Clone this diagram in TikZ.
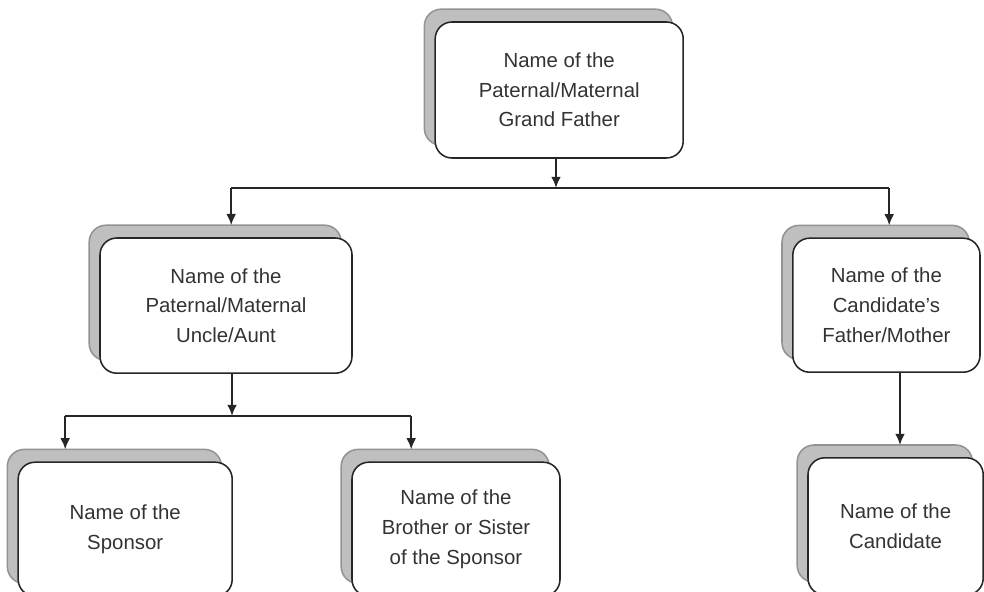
\documentclass[tikz,border=0pt]{standalone}
\usepackage{fontspec}
\setmainfont{Liberation Sans}
\usetikzlibrary{shadows,arrows.meta}

\begin{document}
\begin{tikzpicture}[
  box/.style={draw=black!85, line width=1.1pt, rounded corners=0.42cm, fill=white,
    align=center, text=black!80, font=\fontsize{14.5}{21}\selectfont, inner sep=0pt,
    copy shadow={shadow xshift=-0.27cm, shadow yshift=0.32cm, fill=gray!50, draw=gray!85}},
  link/.style={line width=1.5pt, draw=black!85},
  arrow/.style={link, -{Latex[length=8pt,width=7pt]}}
]
  \useasboundingbox (0,0) rectangle (24.60,-14.78);
  \clip (0,0) rectangle (24.60,-14.78);
  \node[box, minimum width=6.20cm, minimum height=3.40cm] (1) at (13.98,-2.25) {Name of the\\Paternal/Maternal\\Grand Father};
  \node[box, minimum width=6.30cm, minimum height=3.38cm] (2) at (5.65,-7.64) {Name of the\\Paternal/Maternal\\Uncle/Aunt};
  \node[box, minimum width=4.68cm, minimum height=3.35cm] (3) at (22.16,-7.63) {Name of the\\Candidate's\\Father/Mother};
  \node[box, minimum width=5.35cm, minimum height=3.35cm] (4) at (3.13,-13.23) {Name of the\\Sponsor};
  \node[box, minimum width=5.20cm, minimum height=3.35cm] (5) at (11.40,-13.23) {Name of the\\Brother or Sister\\of the Sponsor};
  \node[box, minimum width=4.38cm, minimum height=3.43cm] (6) at (22.39,-13.16) {Name of the\\Candidate};
  % Draw the links
  \coordinate (j1) at (13.90,-4.70);
  \coordinate (j1L) at (5.78,-4.70);
  \coordinate (j1R) at (22.23,-4.70);
  \draw[link] (j1L) -- (j1R);
  \draw[arrow] (1.south -| j1) -- (j1);
  \draw[arrow, shorten >=0.3cm] (j1L) -- (j1L |- 2.north);
  \draw[arrow, shorten >=0.3cm] (j1R) -- (j1R |- 3.north);
  \coordinate (j2) at (5.80,-10.40);
  \coordinate (j2L) at (1.63,-10.40);
  \coordinate (j2R) at (10.28,-10.40);
  \draw[link] (j2L) -- (j2R);
  \draw[arrow] (2.south -| j2) -- (j2);
  \draw[arrow, shorten >=0.3cm] (j2L) -- (j2L |- 4.north);
  \draw[arrow, shorten >=0.3cm] (j2R) -- (j2R |- 5.north);
  \coordinate (j3) at (22.50,-7.63);
  \draw[arrow, shorten >=0.3cm] (3.south -| j3) -- (j3 |- 6.north);
\end{tikzpicture}
\end{document}
